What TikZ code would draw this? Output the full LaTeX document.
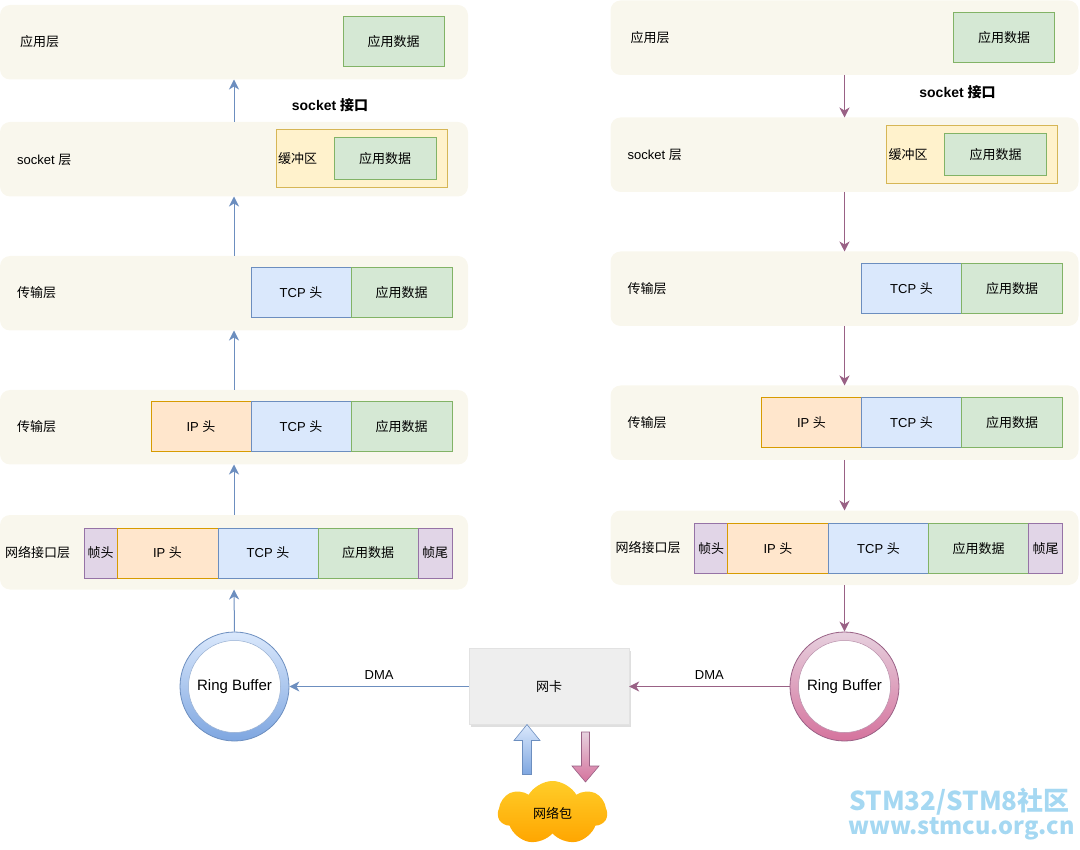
\documentclass[tikz,border=0pt]{standalone}
\usepackage{fontspec}
\setmainfont{Liberation Sans}
\newfontfamily\cjk{Noto Sans CJK SC}
\usetikzlibrary{arrows.meta,shapes.symbols,shadows}
\definecolor{layerbg}{HTML}{F9F7ED}
\definecolor{gfill}{HTML}{D5E8D4}\definecolor{gline}{HTML}{82B366}
\definecolor{bfill}{HTML}{DAE8FC}\definecolor{bline}{HTML}{6C8EBF}
\definecolor{ofill}{HTML}{FFE6CC}\definecolor{oline}{HTML}{D79B00}
\definecolor{pfill}{HTML}{E1D5E7}\definecolor{pline}{HTML}{9673A6}
\definecolor{yfill}{HTML}{FFF2CC}\definecolor{yline}{HTML}{D6B656}
\definecolor{mline}{HTML}{996185}
\definecolor{bdark}{HTML}{7EA6E0}
\definecolor{mfill}{HTML}{E6D0DE}\definecolor{mdark}{HTML}{D5739D}
\definecolor{nicfill}{HTML}{EEEEEE}
\definecolor{cloudtop}{HTML}{FFCD28}\definecolor{cloudbot}{HTML}{FFA500}
\definecolor{wm}{HTML}{A5D8F2}
\newcommand\colstack[2]{%
  % layer 1
  \node[layer] (#1L1) at (0,5) {};
  \node[lbl] (#1t1) at (20,42) {\cjk 应用层};
  \node[gcell, minimum width=101pt] (#1a1) at (343,17) {\cjk 应用数据};
  % layer 2
  \node[layer] (#1L2) at (0,122) {};
  \node[lbl] (#1t2) at (17,159.5) {socket {\cjk 层}};
  \node[ycell, minimum width=171pt] (#1buf) at (276,130) {};
  \node[lbl] (#1t2b) at (278,159) {\cjk 缓冲区};
  \node[gcell, minimum width=102pt, minimum height=42pt] (#1a2) at (334,138) {\cjk 应用数据};
  % layer 3
  \node[layer] (#1L3) at (0,256) {};
  \node[lbl] (#1t3) at (17,293) {\cjk 传输层};
  \node[bcell, minimum width=100pt] (#1c3) at (251,268) {TCP {\cjk 头}};
  \node[gcell, minimum width=101pt] (#1a3) at (351,268) {\cjk 应用数据};
  % layer 4
  \node[layer] (#1L4) at (0,390) {};
  \node[lbl] (#1t4) at (17,427) {\cjk 传输层};
  \node[ocell, minimum width=100pt] (#1i4) at (151,402) {IP {\cjk 头}};
  \node[bcell, minimum width=100pt] (#1c4) at (251,402) {TCP {\cjk 头}};
  \node[gcell, minimum width=101pt] (#1a4) at (351,402) {\cjk 应用数据};
  % layer 5
  \node[layer] (#1L5) at (0,515) {};
  \node[lbl] (#1t5) at (5,552.5) {\cjk 网络接口层};
  \node[pcell, minimum width=33pt] (#1h5) at (84,528) {\cjk 帧头};
  \node[ocell, minimum width=101pt] (#1i5) at (117,528) {IP {\cjk 头}};
  \node[bcell, minimum width=100pt] (#1c5) at (218,528) {TCP {\cjk 头}};
  \node[gcell, minimum width=100pt] (#1a5) at (318,528) {\cjk 应用数据};
  \node[pcell, minimum width=34pt] (#1e5) at (418,528) {\cjk 帧尾};
  % connectors
  \draw[#2] (#1L1.south) -- (#1L2.north);
  \draw[#2] (#1L2.south) -- (#1L3.north);
  \draw[#2] (#1L3.south) -- (#1L4.north);
  \draw[#2] (#1L4.south) -- (#1L5.north);
}
\begin{document}
\begin{tikzpicture}[x=1pt,y=-1pt,
  fs/.style={font=\fontsize{13pt}{15pt}\selectfont},
  layer/.style={fill=layerbg, rounded corners=10pt, anchor=north west, inner sep=0pt, outer sep=0pt, minimum width=468pt, minimum height=74.5pt},
  lbl/.style={fs, anchor=west, inner sep=0pt},
  cell/.style={fs, draw, anchor=north west, inner sep=0pt, outer sep=0pt, minimum height=50pt, line width=1pt},
  gcell/.style={cell, fill=gfill, draw=gline},
  bcell/.style={cell, fill=bfill, draw=bline},
  ocell/.style={cell, fill=ofill, draw=oline},
  pcell/.style={cell, fill=pfill, draw=pline},
  ycell/.style={cell, fill=yfill, draw=yline, minimum height=58pt},
  tipL/.style={line width=1pt, draw=bline, {Stealth[length=10pt,width=10pt,inset=3pt]}-},
  tipR/.style={line width=1pt, draw=mline, -{Stealth[length=10pt,width=10pt,inset=3pt]}},
  tipLf/.style={line width=1pt, draw=bline, -{Stealth[length=10pt,width=10pt,inset=3pt]}},
  ringout/.style={circle, minimum size=109pt, inner sep=0pt, line width=0.8pt},
  ringin/.style={circle, minimum size=92pt, inner sep=0pt, fill=white, line width=0.5pt, font=\fontsize{15pt}{17pt}\selectfont},
  wmtext/.style={anchor=east, inner sep=0pt, text=wm},
]
\useasboundingbox (0,0) rectangle (1080,850);

\colstack{l}{tipL}
\begin{scope}[shift={(610.5,-4.5)}]
\colstack{r}{tipR}
\end{scope}

\node[inner sep=0pt, font=\bfseries\fontsize{14pt}{16pt}\selectfont] (lsock) at (330,105) {socket {\cjk 接口}};
\node[inner sep=0pt, font=\bfseries\fontsize{14pt}{16pt}\selectfont] (rsock) at (957.5,92) {socket {\cjk 接口}};

% ring buffers
\node[ringout, top color=bfill, bottom color=bdark, draw=bline] (lrb) at (234.5,686.5) {};
\node[ringin, draw=bline!70] (lrbt) at (lrb.center) {Ring Buffer};
\node[ringout, top color=mfill, bottom color=mdark, draw=mline] (rrb) at (844.5,686.5) {};
\node[ringin, draw=mline!70] (rrbt) at (rrb.center) {Ring Buffer};

\draw[tipL] (lL5.south) -- (lrb.north);
\draw[tipR] (rL5.south) -- (rrb.north);

% NIC
\node[fs, fill=nicfill, draw=nicfill!95!black, minimum width=160pt, minimum height=76pt, inner sep=0pt,
      drop shadow={shadow xshift=2pt, shadow yshift=-2pt, opacity=0.25}] (nic) at (549,686.5) {\cjk 网卡};

\draw[tipLf] (nic.west) -- node[fs, above=7pt, inner sep=0pt] (ldma) {DMA} (lrb.east);
\draw[tipR] (rrb.west) -- node[fs, above=7pt, inner sep=0pt] (rdma) {DMA} (nic.east);

% cloud
\node[cloud, cloud puffs=7, cloud puff arc=120, aspect=1.7, inner sep=0pt, minimum width=109pt, minimum height=64pt,
      top color=cloudtop, bottom color=cloudbot, draw=none, fs] (pkt) at (552.5,813) {\cjk 网络包};

% block arrows
\coordinate (upTip) at (527,724.5);
\coordinate (dnTip) at (585.5,782);
\path[draw=bline, line width=0.6pt, top color=bfill, bottom color=bdark]
  (upTip) -- ++(13,16) -- ++(-8.5,0) -- ++(0,34) -- ++(-9,0) -- ++(0,-34) -- ++(-8.5,0) -- cycle;
\path[draw=mline, line width=0.6pt, top color=mfill, bottom color=mdark]
  (dnTip) -- ++(13.5,-16) -- ++(-9.5,0) -- ++(0,-34) -- ++(-8,0) -- ++(0,34) -- ++(-9.5,0) -- cycle;

% watermark
\node[wmtext, font=\cjk\bfseries\fontsize{26pt}{27pt}\selectfont] (wm1) at (1070,802) {STM32/STM8社区};
\node[wmtext, font=\cjk\bfseries\fontsize{23.5pt}{24pt}\selectfont] (wm2) at (1075,829) {www.stmcu.org.cn};
\end{tikzpicture}
\end{document}
